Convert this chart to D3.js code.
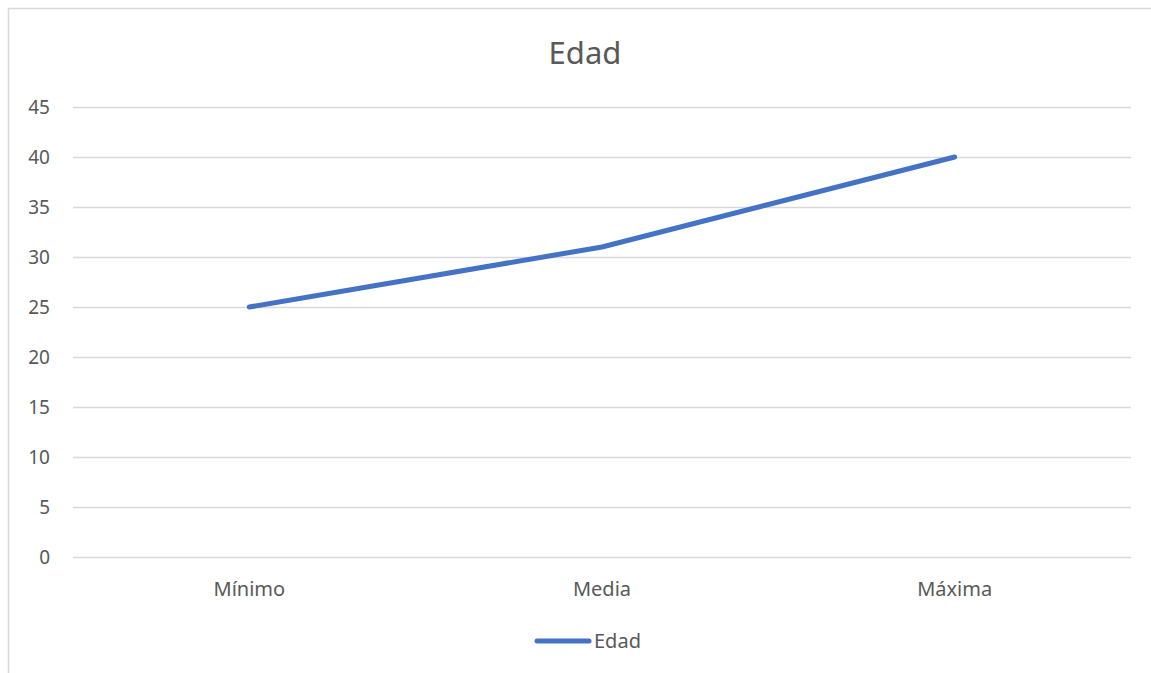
<!DOCTYPE html>
<html><head><meta charset="utf-8">
<script src="https://cdn.jsdelivr.net/npm/d3@7"></script>
<style>body{margin:0;background:#fff;} svg{display:block;}</style>
</head><body>
<svg id="c" width="1151" height="673"></svg>
<script>
const categories = ["Mínimo", "Media", "Máxima"];
const values = [25, 31, 40];
const yTicks = [0, 5, 10, 15, 20, 25, 30, 35, 40, 45];
const seriesName = "Edad";
const chartTitle = "Edad";

const svg = d3.select("#c");
const font = "'Noto Sans', 'Open Sans', sans-serif";
const textColor = "#595959";

// chart border
svg.append("rect").attr("x", 8.5).attr("y", 8.5).attr("width", 1160).attr("height", 680)
  .attr("fill", "#fff").attr("stroke", "#d9d9d9").attr("stroke-width", 1.5);

const pL = 73, pR = 1131, pT = 107, pB = 557;
const x = d3.scaleBand().domain(categories).range([pL, pR]);
const y = d3.scaleLinear().domain([0, 45]).range([pB, pT]);

svg.append("text").attr("x", 585).attr("y", 64).attr("text-anchor", "middle")
  .attr("font-family", font).attr("font-size", 31).attr("fill", textColor).text(chartTitle);

// gridlines
svg.append("g").selectAll("line").data(yTicks).join("line")
  .attr("x1", pL).attr("x2", pR)
  .attr("y1", d => Math.round(y(d)) + 0.5).attr("y2", d => Math.round(y(d)) + 0.5)
  .attr("stroke", "#d9d9d9").attr("stroke-width", 1.5);

// y axis labels
const yAxis = d3.axisLeft(y).tickValues(yTicks).tickSize(0).tickPadding(0);
const yg = svg.append("g").attr("transform", `translate(50,0)`).call(yAxis);
yg.select(".domain").remove();
yg.selectAll("text").attr("font-family", font).attr("font-size", 19).attr("fill", textColor);

// x axis labels
const xAxis = d3.axisBottom(x).tickSize(0).tickPadding(0);
const xg = svg.append("g").attr("transform", `translate(0,${pB + 25})`).call(xAxis);
xg.select(".domain").remove();
xg.selectAll("text").attr("font-family", font).attr("font-size", 20).attr("fill", textColor);

// line
const line = d3.line().x((d, i) => x(categories[i]) + x.bandwidth() / 2).y(d => y(d));
svg.append("path").datum(values).attr("d", line).attr("fill", "none")
  .attr("stroke", "#4472C4").attr("stroke-width", 5).attr("stroke-linecap", "round").attr("stroke-linejoin", "round");

// legend
svg.append("line").attr("x1", 537).attr("x2", 589).attr("y1", 641).attr("y2", 641)
  .attr("stroke", "#4472C4").attr("stroke-width", 5).attr("stroke-linecap", "round");
svg.append("text").attr("x", 594).attr("y", 648).attr("font-family", font).attr("font-size", 20)
  .attr("fill", textColor).text(seriesName);
</script>
</body></html>
